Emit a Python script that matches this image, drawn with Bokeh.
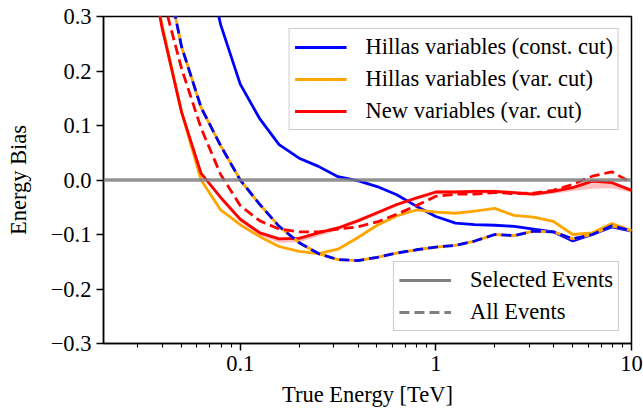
import numpy as np
from bokeh.plotting import figure
from bokeh.models import (Legend, LegendItem, FixedTicker, Span,
                          CustomJSTickFormatter)
from bokeh.embed import file_html
from bokeh.resources import INLINE

# True energy bins [TeV]
energy = [0.0316, 0.0398, 0.0501, 0.0631, 0.0794, 0.1, 0.126, 0.158, 0.2,
          0.251, 0.316, 0.398, 0.501, 0.631, 0.794, 1.0, 1.26, 1.58, 2.0,
          2.51, 3.16, 3.98, 5.01, 6.31, 7.94, 10.0]

# Selected events
hillas_const_sel = [1.3, 1.0, 0.72, 0.45, 0.285, 0.176, 0.112, 0.065, 0.040,
                    0.025, 0.006, -0.001, -0.012, -0.027, -0.048, -0.067,
                    -0.079, -0.082, -0.083, -0.085, -0.090, -0.095, -0.112,
                    -0.100, -0.086, -0.094]
hillas_var_sel = [0.45, 0.285, 0.125, 0.0, -0.055, -0.082, -0.104, -0.122,
                  -0.131, -0.135, -0.127, -0.106, -0.083, -0.066, -0.055,
                  -0.059, -0.061, -0.057, -0.052, -0.065, -0.068, -0.076,
                  -0.100, -0.097, -0.080, -0.093]
new_var_sel = [0.47, 0.28, 0.125, 0.012, -0.032, -0.072, -0.097, -0.108,
               -0.107, -0.097, -0.088, -0.075, -0.060, -0.045, -0.033, -0.022,
               -0.022, -0.021, -0.021, -0.023, -0.026, -0.021, -0.014, -0.002,
               -0.005, -0.019]
new_var_err_up = [0.003, 0.003, 0.003, 0.003, 0.003, 0.003, 0.003, 0.003,
                  0.003, 0.003, 0.003, 0.003, 0.003, 0.003, 0.003, 0.003,
                  0.003, 0.003, 0.003, 0.003, 0.003, 0.003, 0.003, 0.003,
                  0.003, 0.003]
new_var_err_down = [0.004, 0.004, 0.004, 0.004, 0.004, 0.004, 0.005, 0.007,
                    0.007, 0.006, 0.004, 0.004, 0.004, 0.004, 0.004, 0.004,
                    0.004, 0.004, 0.004, 0.004, 0.004, 0.004, 0.006, 0.014,
                    0.010, 0.004]

# All events
hillas_all = [0.75, 0.42, 0.245, 0.133, 0.063, 0.0, -0.045, -0.085, -0.115,
              -0.135, -0.146, -0.148, -0.142, -0.134, -0.128, -0.123, -0.120,
              -0.112, -0.100, -0.102, -0.094, -0.095, -0.108, -0.100, -0.084,
              -0.093]
new_var_all = [0.6, 0.34, 0.205, 0.095, 0.010, -0.047, -0.075, -0.090, -0.095,
               -0.095, -0.090, -0.086, -0.077, -0.063, -0.047, -0.030, -0.026,
               -0.026, -0.023, -0.025, -0.024, -0.019, -0.008, 0.007, 0.015,
               -0.005]

x_major = [0.1, 1, 10]
x_minor = [0.03, 0.04, 0.05, 0.06, 0.07, 0.08, 0.09,
           0.2, 0.3, 0.4, 0.5, 0.6, 0.7, 0.8, 0.9,
           2, 3, 4, 5, 6, 7, 8, 9]
y_major = [-0.3, -0.2, -0.1, 0.0, 0.1, 0.2, 0.3]

legend_proxy_x = [1.0]
legend_proxy_y = [float("nan")]

FONT = "Liberation Serif"
FS = "22.5px"
LW = 2.8

p = figure(width=643, height=410, x_axis_type="log", x_range=(0.02, 10),
           y_range=(-0.3, 0.3), output_backend="svg", toolbar_location=None,
           min_border_left=103, min_border_right=12, min_border_top=16,
           min_border_bottom=67)
p.xgrid.visible = False
p.ygrid.visible = False
p.outline_line_color = "black"
p.outline_line_width = 1.5
p.outline_line_alpha = 1.0

new_lo = [v - e for v, e in zip(new_var_sel, new_var_err_down)]
new_hi = [v + e for v, e in zip(new_var_sel, new_var_err_up)]

r_blue = p.line(energy, hillas_const_sel, line_color="blue", line_width=LW)
r_orange = p.line(energy, hillas_var_sel, line_color="orange", line_width=LW)
p.varea(x=energy, y1=new_lo, y2=new_hi, fill_color="red", fill_alpha=0.25)
r_red = p.line(energy, new_var_sel, line_color="red", line_width=LW)
p.line(energy, hillas_all, line_color="orange", line_width=LW)
p.line(energy, hillas_all, line_color="blue", line_width=LW, line_dash="10 5")
p.line(energy, new_var_all, line_color="red", line_width=LW, line_dash="10 5")

p.add_layout(Span(location=0, dimension="width", line_color="gray",
                  line_width=3.3, line_alpha=0.85))

r_sel = p.line(legend_proxy_x, legend_proxy_y, line_color="gray", line_width=LW)
r_all = p.line(legend_proxy_x, legend_proxy_y, line_color="gray", line_width=LW,
               line_dash="10 5")

xa = p.xaxis[0]
ya = p.yaxis[0]
xa.ticker = FixedTicker(ticks=x_major, minor_ticks=x_minor)
ya.ticker = FixedTicker(ticks=y_major, minor_ticks=[])
xa.formatter = CustomJSTickFormatter(code="return tick >= 1 ? tick.toFixed(0) : tick.toFixed(1);")
ya.formatter = CustomJSTickFormatter(code="return tick.toFixed(1).replace('-', '\u2212');")
xa.axis_label = "True Energy [TeV]"
ya.axis_label = "Energy Bias"
for ax in (xa, ya):
    ax.axis_line_color = "black"
    ax.axis_line_width = 1.5
    ax.major_tick_line_color = "black"
    ax.major_tick_line_width = 1.5
    ax.major_tick_out = 7
    ax.major_tick_in = 0
    ax.minor_tick_line_color = "black"
    ax.minor_tick_line_width = 1.1
    ax.minor_tick_out = 4
    ax.minor_tick_in = 0
    ax.major_label_text_font = FONT
    ax.major_label_text_font_size = FS
    ax.major_label_text_color = "black"
    ax.axis_label_text_font = FONT
    ax.axis_label_text_font_size = FS
    ax.axis_label_text_font_style = "normal"
    ax.axis_label_text_color = "black"
    ax.major_label_standoff = 5
xa.axis_label_standoff = 8
ya.axis_label_standoff = 17


def style_legend(lg):
    lg.label_text_font = FONT
    lg.label_text_font_size = FS
    lg.label_text_color = "black"
    lg.glyph_width = 52
    lg.glyph_height = 20
    lg.label_standoff = 19
    lg.padding = 5
    lg.spacing = 6
    lg.margin = 12
    lg.border_line_color = "#cccccc"
    lg.border_line_width = 1.5
    lg.border_line_alpha = 1.0
    lg.background_fill_color = "white"
    lg.background_fill_alpha = 0.8


leg1 = Legend(items=[
    LegendItem(label="Hillas variables (const. cut)", renderers=[r_blue]),
    LegendItem(label="Hillas variables (var. cut)", renderers=[r_orange]),
    LegendItem(label="New variables (var. cut)", renderers=[r_red]),
], location="top_right")
leg2 = Legend(items=[
    LegendItem(label="Selected Events", renderers=[r_sel]),
    LegendItem(label="All Events", renderers=[r_all]),
], location="bottom_right")
style_legend(leg1)
style_legend(leg2)
p.add_layout(leg1, "center")
p.add_layout(leg2, "center")

open("out.html", "w").write(file_html(p, INLINE))
